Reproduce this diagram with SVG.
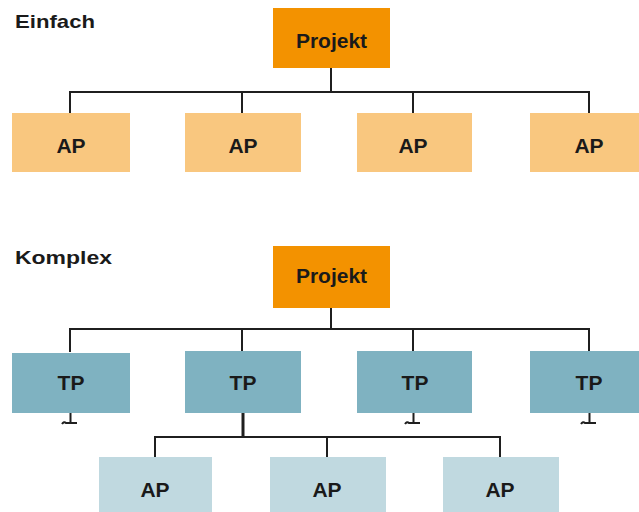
<svg xmlns="http://www.w3.org/2000/svg" width="639" height="512" viewBox="0 0 639 512">
<style>
.t{font-family:"Liberation Sans",Arial,sans-serif;font-weight:bold;font-size:21px;fill:#1a1a1a;text-anchor:middle}
.h{font-family:"Liberation Sans",Arial,sans-serif;font-weight:bold;font-size:19px;fill:#1a1a1a}
.pj{fill:#F39200}
.ap{fill:#F9C77F}
.tp{fill:#7FB2C1}
.ap2{fill:#C0D9E0}
.c{fill:none;stroke:#1f1f1f;stroke-width:2}
</style>
<rect width="639" height="512" fill="#ffffff"/>
<text class="h" x="15" y="28" textLength="80" lengthAdjust="spacingAndGlyphs">Einfach</text>
<text class="h" x="15" y="264" textLength="97" lengthAdjust="spacingAndGlyphs">Komplex</text>
<g id="connectors">
<path class="c" d="M331 68V92M70 114V92H589V114M242 92V114M413 92V114"/>
<path class="c" d="M331 308V329M70 352V329H589V352M242 329V352M413 329V352"/>
<path class="c" d="M70.5 412V423M62 424Q64 421 66 423H77"/>
<path class="c" d="M413.5 412V423M405 424Q407 421 409 423H420"/>
<path class="c" d="M589.5 412V423M581 424Q583 421 585 423H596"/>
<path class="c" d="M243 412V437" style="stroke-width:3"/>
<path class="c" d="M155 458V437H500V458M327 437V458"/>
</g>
<g id="projekt1"><rect class="pj" x="273" y="8" width="117" height="60"/><text class="t" x="331.5" y="48">Projekt</text></g>
<g id="ap1"><rect class="ap" x="12" y="113" width="118" height="59"/><text class="t" x="71" y="153">AP</text></g>
<g id="ap2"><rect class="ap" x="185" y="113" width="116" height="59"/><text class="t" x="243" y="153">AP</text></g>
<g id="ap3"><rect class="ap" x="357" y="113" width="115" height="59"/><text class="t" x="413" y="153">AP</text></g>
<g id="ap4"><rect class="ap" x="530" y="113" width="109" height="59"/><text class="t" x="589" y="153">AP</text></g>
<g id="projekt2"><rect class="pj" x="273" y="246" width="117" height="62"/><text class="t" x="331.5" y="283">Projekt</text></g>
<g id="tp1"><rect class="tp" x="12" y="353" width="118" height="60"/><text class="t" x="71" y="390">TP</text></g>
<g id="tp2"><rect class="tp" x="185" y="351" width="116" height="62"/><text class="t" x="243" y="390">TP</text></g>
<g id="tp3"><rect class="tp" x="357" y="351" width="115" height="62"/><text class="t" x="415" y="390">TP</text></g>
<g id="tp4"><rect class="tp" x="530" y="351" width="109" height="62"/><text class="t" x="589" y="390">TP</text></g>
<g id="ap5"><rect class="ap2" x="99" y="457" width="113" height="55"/><text class="t" x="155" y="497">AP</text></g>
<g id="ap6"><rect class="ap2" x="270" y="457" width="116" height="55"/><text class="t" x="327" y="497">AP</text></g>
<g id="ap7"><rect class="ap2" x="443" y="457" width="116" height="55"/><text class="t" x="500" y="497">AP</text></g>
</svg>
